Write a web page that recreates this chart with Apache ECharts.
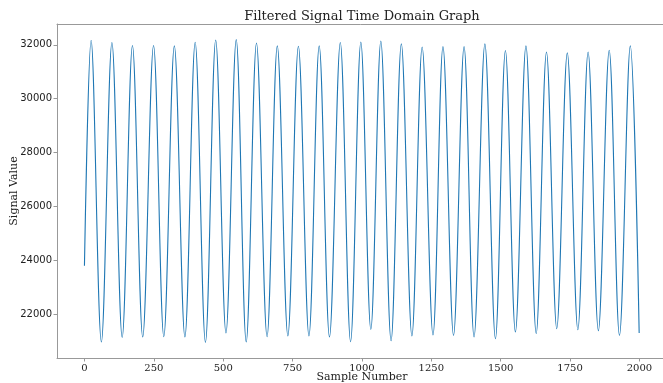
<!DOCTYPE html>
<html>
<head>
<meta charset="utf-8">
<script src="https://cdn.jsdelivr.net/npm/echarts@6/dist/echarts.min.js"></script>
<style>
html,body{margin:0;padding:0;background:#fff;}
#chart{width:663px;height:383px;}
</style>
</head>
<body>
<div id="chart"></div>
<script>
// Sample positions and values of the signal's turning points
var sampleIdx = [0, 24, 61, 99, 136, 173, 210, 249, 286, 324, 362, 399, 436, 473, 510, 547, 583, 620, 658, 695, 733, 771, 809, 846, 883, 922, 959, 996, 1032, 1068, 1105, 1142, 1180, 1217, 1256, 1292, 1330, 1368, 1404, 1443, 1481, 1517, 1553, 1591, 1628, 1665, 1702, 1740, 1778, 1815, 1852, 1891, 1928, 1967, 1999];
var signalVal = [23800, 32170, 20965, 32085, 21135, 31975, 21150, 31975, 21160, 31960, 21150, 32095, 20950, 32180, 21300, 32195, 20965, 32070, 21160, 31960, 21190, 31950, 21190, 31960, 21150, 32085, 20975, 32105, 21430, 32145, 21010, 32035, 21190, 31920, 21225, 31935, 21210, 31935, 21150, 32035, 21085, 31790, 21335, 31960, 21275, 31735, 21460, 31700, 21420, 31735, 21385, 31800, 21210, 31960, 21300];
var xTicks = [0, 250, 500, 750, 1000, 1250, 1500, 1750, 2000];
var yTicks = [22000, 24000, 26000, 28000, 30000, 32000];
var titleText = 'Filtered Signal Time Domain Graph';
var xName = 'Sample Number';
var yName = 'Signal Value';

var seriesData = sampleIdx.map(function (s, i) { return [s, signalVal[i]]; });

var chart = echarts.init(document.getElementById('chart'), null, {renderer: 'canvas'});
var spine = '#999999';
var txt = '#222222';
function plain(v) { return String(v); }
var xMin = -98.9, xMax = 2099.3;
chart.setOption({
  animation: false,
  backgroundColor: '#ffffff',
  grid: {left: 57, top: 24, width: 610, height: 334, show: false, containLabel: false, outerBoundsMode: 'none'},
  xAxis: [{
    type: 'value', min: xMin, max: xMax, position: 'bottom',
    splitLine: {show: false},
    axisLine: {show: true, onZero: false, lineStyle: {color: spine, width: 1}},
    axisTick: {show: true, length: 3.5, inside: false, customValues: xTicks, lineStyle: {color: spine}},
    axisLabel: {show: true, customValues: xTicks, formatter: plain, margin: 5, color: txt, fontFamily: 'DejaVu Serif', fontSize: 10}
  }, {
    type: 'value', min: xMin, max: xMax, position: 'top',
    splitLine: {show: false},
    axisLine: {show: true, onZero: false, lineStyle: {color: spine, width: 1}},
    axisTick: {show: false}, axisLabel: {show: false}
  }],
  yAxis: {
    type: 'value', min: 20371, max: 32774,
    splitLine: {show: false},
    axisLine: {show: true, onZero: false, lineStyle: {color: spine, width: 1}},
    axisTick: {show: true, length: 3.5, inside: false, customValues: yTicks, lineStyle: {color: spine}},
    axisLabel: {show: true, customValues: yTicks, formatter: plain, margin: 5, color: txt, fontFamily: 'DejaVu Sans', fontSize: 10}
  },
  graphic: [
    {type: 'text', x: 362, y: 17, style: {text: titleText, align: 'center', verticalAlign: 'middle', font: '13px "DejaVu Serif"', fill: txt}},
    {type: 'text', x: 362, y: 377, style: {text: xName, align: 'center', verticalAlign: 'middle', font: '11px "DejaVu Serif"', fill: txt}},
    {type: 'text', x: 14, y: 191, rotation: Math.PI / 2, style: {text: yName, align: 'center', verticalAlign: 'middle', font: '11px "DejaVu Serif"', fill: txt}}
  ],
  series: [{
    type: 'line', data: seriesData, xAxisIndex: 0, yAxisIndex: 0, showSymbol: false, symbol: 'none',
    smooth: 0.36, clip: true,
    lineStyle: {color: '#1f77b4', width: 1.1}
  }]
});
</script>
</body>
</html>
